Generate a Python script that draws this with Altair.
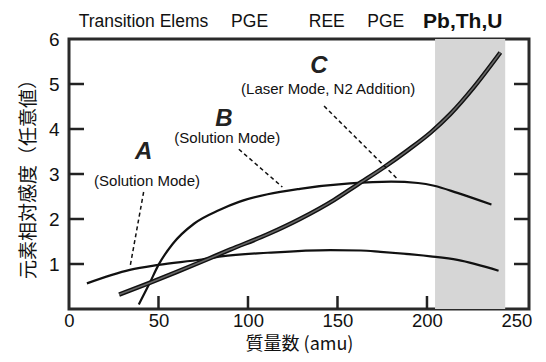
import altair as alt
import pandas as pd

# Curve A (Solution Mode)
a_x = [10, 34, 50, 74, 85, 111, 146, 163, 174, 202, 217, 240]
a_y = [0.57, 0.87, 0.98, 1.10, 1.17, 1.25, 1.31, 1.30, 1.27, 1.17, 1.09, 0.85]
# Curve B (Solution Mode)
b_x = [39, 45, 50, 58, 70, 84, 95, 111, 129, 157, 180, 195, 204, 217, 236]
b_y = [0.10, 0.57, 0.98, 1.45, 1.90, 2.20, 2.38, 2.55, 2.67, 2.79, 2.83, 2.80, 2.74, 2.58, 2.32]
# Curve C (Laser Mode, N2 Addition)
c_x = [28, 45, 60, 74, 90, 111, 129, 148, 161, 176, 189, 202, 213, 226, 241]
c_y = [0.32, 0.58, 0.82, 1.05, 1.32, 1.66, 2.00, 2.42, 2.76, 3.15, 3.52, 3.92, 4.33, 4.92, 5.70]

# shaded Pb,Th,U region
shade_x = [204.5]
shade_x2 = [243.7]

# leader lines (start / end)
lead_x = [41.7, 94.9, 142.5]
lead_y = [2.60, 3.55, 4.51]
lead_x2 = [34.3, 119.2, 183.5]
lead_y2 = [0.98, 2.71, 2.89]

# annotation letters and captions
letters = ["A", "B", "C"]
letter_x = [41.7, 86.5, 139.7]
letter_y = [3.48, 4.22, 5.39]
captions = ["(Solution Mode)", "(Solution Mode)", "(Laser Mode, N2 Addition)"]
caption_x = [43.6, 88.4, 144.8]
caption_y = [2.85, 3.79, 4.89]

# top element-group labels
top_labels = ["Transition Elems", "PGE", "REE", "PGE"]
top_x = [41.6, 100.9, 144.0, 177.0]
top_bold = ["Pb,Th,U"]
top_bold_x = [220.0]
top_y = 6.38

x_ticks = [0, 50, 100, 150, 200, 250]
y_ticks = [1, 2, 3, 4, 5, 6]
inner_x_ticks = [50, 100, 150, 200]
inner_y_ticks = [1, 2, 3, 4, 5]

W, H = 460, 270
LATIN = "Liberation Sans"
CJK = "Noto Sans CJK JP"

xs = alt.Scale(domain=[0, 257], nice=False, zero=False)
ys = alt.Scale(domain=[0, 6], nice=False, zero=False)

x_axis = alt.Axis(
    values=x_ticks,
    format="d",
    grid=False,
    domain=False,
    ticks=False,
    labelFlush=False,
    labelFont=LATIN,
    labelFontSize=18.5,
    labelColor="#111",
    labelPadding=2,
    title="質量数 (amu)",
    titleFont=CJK,
    titleFontSize=18,
    titleFontWeight="normal",
    titleColor="#111",
    titleBaseline="bottom",
    titleY=44,
)
y_axis = alt.Axis(
    values=y_ticks,
    format="d",
    grid=False,
    domain=False,
    ticks=False,
    labelFlush=False,
    labelFont=LATIN,
    labelFontSize=19,
    labelColor="#111",
    labelPadding=10,
    title="元素相対感度（任意値）",
    titleFont=CJK,
    titleFontSize=19,
    titleFontWeight="normal",
    titleColor="#111",
    titlePadding=10,
)


def X(field):
    return alt.X(field, type="quantitative", scale=xs, axis=x_axis)


def Y(field):
    return alt.Y(field, type="quantitative", scale=ys, axis=y_axis)


df_a = pd.DataFrame({"x": a_x, "y": a_y})
df_b = pd.DataFrame({"x": b_x, "y": b_y})
df_c = pd.DataFrame({"x": c_x, "y": c_y})

shade = alt.Chart(pd.DataFrame({"x": shade_x, "x2": shade_x2, "y": [0], "y2": [6]})).mark_rect(
    color="#d6d6d6"
).encode(x=X("x"), x2="x2", y=Y("y"), y2="y2")

line_a = alt.Chart(df_a).mark_line(color="#111", strokeWidth=2.2, interpolate="monotone").encode(
    x=X("x"), y=Y("y")
)
line_b = alt.Chart(df_b).mark_line(color="#111", strokeWidth=2.2, interpolate="monotone").encode(
    x=X("x"), y=Y("y")
)
line_c_out = alt.Chart(df_c).mark_line(color="#111", strokeWidth=4.5, interpolate="monotone").encode(
    x=X("x"), y=Y("y")
)
line_c_in = alt.Chart(df_c).mark_line(color="#666", strokeWidth=1.6, interpolate="monotone").encode(
    x=X("x"), y=Y("y")
)

leaders = alt.Chart(
    pd.DataFrame({"x": lead_x, "y": lead_y, "x2": lead_x2, "y2": lead_y2})
).mark_rule(color="#111", strokeWidth=1.5, strokeDash=[4, 3]).encode(
    x=X("x"), y=Y("y"), x2="x2", y2="y2"
)

letter_txt = alt.Chart(pd.DataFrame({"t": letters, "x": letter_x, "y": letter_y})).mark_text(
    font=LATIN, fontSize=24, fontWeight="bold", fontStyle="italic", color="#222", baseline="middle"
).encode(x=X("x"), y=Y("y"), text="t:N")

caption_txt = alt.Chart(pd.DataFrame({"t": captions, "x": caption_x, "y": caption_y})).mark_text(
    font=LATIN, fontSize=15, color="#111", baseline="middle"
).encode(x=X("x"), y=Y("y"), text="t:N")

top_txt = alt.Chart(pd.DataFrame({"t": top_labels, "x": top_x, "y": [top_y] * len(top_x)})).mark_text(
    font=LATIN, fontSize=17.5, color="#111", baseline="middle"
).encode(x=X("x"), y=Y("y"), text="t:N")

top_bold_txt = alt.Chart(
    pd.DataFrame({"t": top_bold, "x": top_bold_x, "y": [top_y] * len(top_bold_x)})
).mark_text(font=LATIN, fontSize=21, fontWeight="bold", color="#111", baseline="middle").encode(
    x=X("x"), y=Y("y"), text="t:N"
)

tick_left = alt.Chart(pd.DataFrame({"v": inner_y_ticks})).mark_rule(color="#222", strokeWidth=2.5).encode(
    y=Y("v"), x=alt.value(0), x2=alt.value(15)
)
tick_right = alt.Chart(pd.DataFrame({"v": inner_y_ticks})).mark_rule(color="#222", strokeWidth=2.5).encode(
    y=Y("v"), x=alt.value(W - 15), x2=alt.value(W)
)
tick_bottom = alt.Chart(pd.DataFrame({"v": inner_x_ticks})).mark_rule(color="#222", strokeWidth=2.5).encode(
    x=X("v"), y=alt.value(H - 13), y2=alt.value(H)
)

chart = (
    alt.layer(
        shade,
        line_a,
        line_b,
        line_c_out,
        line_c_in,
        leaders,
        letter_txt,
        caption_txt,
        top_txt,
        top_bold_txt,
        tick_left,
        tick_right,
        tick_bottom,
    )
    .properties(
        width=W,
        height=H,
        autosize=alt.AutoSizeParams(type="none"),
        padding={"left": 61, "top": 31, "right": 9, "bottom": 45},
        background="white",
    )
    .configure_view(stroke="#2a2a2a", strokeWidth=3)
)

chart.save("out.html", embed_options={"renderer": "svg", "actions": False})
